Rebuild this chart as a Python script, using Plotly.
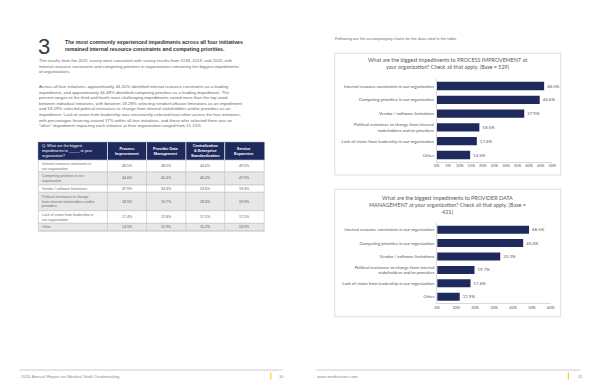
import plotly.graph_objects as go

W, H = 600, 388

# ---------------- data ----------------
categories = [
    "Internal resource constraints in our organization",
    "Competing priorities in our organization",
    "Vendor / software limitations",
    "Political resistance to change from internal<br>stakeholders and/or providers",
    "Lack of vision from leadership in our organization",
    "Other",
]
process_improvement = [46.5, 44.6, 37.9, 18.5, 17.4, 14.5]
provider_data_mgmt = [48.5, 45.4, 33.3, 19.7, 17.6, 11.9]
centralization = [44.0, 46.4, 23.6, 28.6, 17.2, 15.2]
service_expansion = [49.5, 47.9, 19.4, 19.9, 17.1, 13.9]

table_row_labels = [
    "Internal resource constraints in<br>our organization",
    "Competing priorities in our<br>organization",
    "Vendor / software limitations",
    "Political resistance to change<br>from internal stakeholders and/or<br>providers",
    "Lack of vision from leadership in<br>our organization",
    "Other",
]
table_headers = [
    "Q: What are the biggest<br>impediments to _____ at your<br>organization?",
    "<b>Process<br>Improvement</b>",
    "<b>Provider Data<br>Management</b>",
    "<b>Centralization<br>& Enterprise<br>Standardization</b>",
    "<b>Service<br>Expansion</b>",
]
table_columns = [process_improvement, provider_data_mgmt, centralization, service_expansion]

chart1_title = "What are the biggest impediments to PROCESS IMPROVEMENT at<br>your organization? Check all that apply. (Base = 529)"
chart2_title = "What are the biggest impediments to PROVIDER DATA<br>MANAGEMENT at your organization? Check all that apply. (Base =<br>421)"

# ---------------- helpers ----------------
def X(px):
    return px / W

def Y(py):
    return 1 - py / H

NAVY = "#1f2a5c"
GRAY_TXT = "#595959"
BODY_FONT = "Liberation Sans"
CHART_FONT = "Lato"

fig = go.Figure()
shapes = []
ann = []

def text(px, py, s, size, color="#555555", xanchor="left", yanchor="middle", align="left", family=BODY_FONT):
    ann.append(dict(x=X(px), y=Y(py), xref="paper", yref="paper", text=s, showarrow=False,
                    xanchor=xanchor, yanchor=yanchor, align=align, borderpad=0,
                    font=dict(size=size, color=color, family=family)))

def rect(x0, y0, x1, y1, fill="rgba(0,0,0,0)", line="rgba(0,0,0,0)", lw=0.5):
    shapes.append(dict(type="rect", xref="paper", yref="paper", x0=X(x0), x1=X(x1), y0=Y(y1), y1=Y(y0),
                       fillcolor=fill, line=dict(color=line, width=lw), layer="below"))

def line(x0, y0, x1, y1, color="#bfbfbf", lw=0.5):
    shapes.append(dict(type="line", xref="paper", yref="paper", x0=X(x0), x1=X(x1), y0=Y(y0), y1=Y(y1),
                       line=dict(color=color, width=lw)))

# ---------------- left page text ----------------
text(34, 46, "3", 22, color="#3a3a3a", family="Liberation Sans")
text(62, 45.5, "<b>The most commonly experienced impediments across all four initiatives<br>remained internal resource constraints and competing priorities.</b>",
     5.2, color="#333333")
para1 = ("The results from the 2021 survey were consistent with survey results from 2018, 2019, and 2020, with<br>"
         "internal resource constraints and competing priorities in organizations remaining the biggest impediments<br>"
         "of organizations.")
para2 = ("Across all four initiatives, approximately 44-50% identified internal resource constraints as a leading<br>"
         "impediment, and approximately 44-48% identified competing priorities as a leading impediment. The<br>"
         "percent ranges of the third and fourth most challenging impediments varied more than the top rated<br>"
         "between individual initiatives, with between 19-28% selecting vendor/software limitations as an impediment<br>"
         "and 19-29% selected political resistance to change from internal stakeholders and/or providers as an<br>"
         "impediment. Lack of vision from leadership was consistently selected least often across the four initiatives,<br>"
         "with percentages hovering around 17% within all four initiatives, and those who selected there was an<br>"
         "\u201cother\u201d impediment impacting each initiative at their organization ranged from 11-15%.")
text(35, 56.5, para1, 4.3, color="#6a6a6a", yanchor="top")
text(35, 83, para2, 4.3, color="#6a6a6a", yanchor="top")

# ---------------- table ----------------
col_x = [35.7, 105.7, 145.3, 185.0, 224.3, 264.3]
row_y = [142.3, 160.0, 172.0, 185.0, 192.3, 210.7, 223.3, 231.0]

rect(col_x[0], row_y[0], col_x[-1], row_y[1], fill=NAVY, line=NAVY)
for i in range(len(table_row_labels)):
    fill = "#e7e7e7" if i % 2 == 1 else "#ffffff"
    rect(col_x[0], row_y[i + 1], col_x[-1], row_y[i + 2], fill=fill, line="#bfbfbf", lw=0.6)
for cx in col_x[1:-1]:
    line(cx, row_y[0], cx, row_y[1], color="#ffffff", lw=0.8)
    line(cx, row_y[1], cx, row_y[-1], color="#bfbfbf", lw=0.6)
line(col_x[0], row_y[-1], col_x[-1], row_y[-1], color="#bfbfbf", lw=0.6)

hy = (row_y[0] + row_y[1]) / 2
text(col_x[0] + 2.5, hy, table_headers[0], 3.8, color="#ffffff")
for j, h in enumerate(table_headers[1:]):
    text((col_x[j + 1] + col_x[j + 2]) / 2, hy, h, 3.8, color="#ffffff", xanchor="center", align="center")
for i, lab in enumerate(table_row_labels):
    cy = (row_y[i + 1] + row_y[i + 2]) / 2
    text(col_x[0] + 2.5, cy, lab, 3.6, color="#707070")
    for j, col in enumerate(table_columns):
        text((col_x[j + 1] + col_x[j + 2]) / 2, cy, f"{col[i]:.1f}%", 3.6, color="#555555", xanchor="center")

# ---------------- right page ----------------
text(335, 38.5, "Following are the accompanying charts for the data cited in the table.", 4.0, color="#707070")

# chart boxes
rect(335.7, 53.3, 564.3, 175.0, fill="#ffffff", line="#d0d0d0", lw=0.7)
rect(335.7, 189.3, 564.3, 316.7, fill="#ffffff", line="#d0d0d0", lw=0.7)
text(450, 63.5, chart1_title, 5.4, color="#595959", xanchor="center", align="center", family=CHART_FONT)
text(450, 204.5, chart2_title, 5.4, color="#595959", xanchor="center", align="center", family=CHART_FONT)

fig.add_trace(go.Bar(
    y=categories, x=process_improvement, orientation="h", marker=dict(color=NAVY, line=dict(width=0)),
    text=[f"{v:.1f}%" for v in process_improvement], textposition="outside", cliponaxis=False,
    textfont=dict(size=4.4, color=GRAY_TXT, family=CHART_FONT), width=0.6,
    xaxis="x", yaxis="y", hoverinfo="skip"))
fig.add_trace(go.Bar(
    y=categories, x=provider_data_mgmt, orientation="h", marker=dict(color=NAVY, line=dict(width=0)),
    text=[f"{v:.1f}%" for v in provider_data_mgmt], textposition="outside", cliponaxis=False,
    textfont=dict(size=4.4, color=GRAY_TXT, family=CHART_FONT), width=0.6,
    xaxis="x2", yaxis="y2", hoverinfo="skip"))

axis_common_x = dict(showgrid=False, zeroline=False, showline=True, linecolor="#d9d9d9", linewidth=0.7,
                     ticks="", ticksuffix="%", tickfont=dict(size=3.8, color=GRAY_TXT, family=CHART_FONT),
                     fixedrange=True)
axis_common_y = dict(showgrid=False, zeroline=False, showline=True, linecolor="#d9d9d9", linewidth=0.7,
                     ticks="", autorange="reversed", tickfont=dict(size=4.3, color=GRAY_TXT, family=CHART_FONT),
                     fixedrange=True, ticklabelstandoff=1)

fig.update_layout(
    width=W, height=H, margin=dict(l=0, r=0, t=0, b=0),
    paper_bgcolor="#ffffff", plot_bgcolor="rgba(0,0,0,0)",
    showlegend=False, bargap=0.4,
    xaxis=dict(domain=[X(438.7), X(555.7)], range=[0, 50], dtick=5, anchor="y", **axis_common_x),
    yaxis=dict(domain=[Y(161.9), Y(79.1)], anchor="x", **axis_common_y),
    xaxis2=dict(domain=[X(439.3), X(554.3)], range=[0, 60], dtick=10, anchor="y2", **axis_common_x),
    yaxis2=dict(domain=[Y(303.4), Y(223.0)], anchor="x2", **axis_common_y),
    font=dict(family=BODY_FONT),
)

# ---------------- footer ----------------
line(17, 370, 283, 370, color="#a6a6a6", lw=0.6)
line(317, 370, 584, 370, color="#a6a6a6", lw=0.6)
text(17, 376, "2020 Annual Report on Medical Staff Credentialing", 4.4, color="#8c8c8c")
text(317, 376, "www.medtrainer.com", 4.4, color="#8c8c8c")
line(271, 372.5, 271, 379.5, color="#f2c200", lw=1)
line(572, 372.5, 572, 379.5, color="#f2c200", lw=1)
text(278.5, 376, "10", 4.2, color="#8c8c8c")
text(580.5, 376, "11", 4.2, color="#8c8c8c")

fig.update_layout(shapes=shapes, annotations=ann)
fig.write_html("out.html", config={"displayModeBar": False},
               post_script="document.body.style.margin='0px';document.body.style.overflow='hidden';")
